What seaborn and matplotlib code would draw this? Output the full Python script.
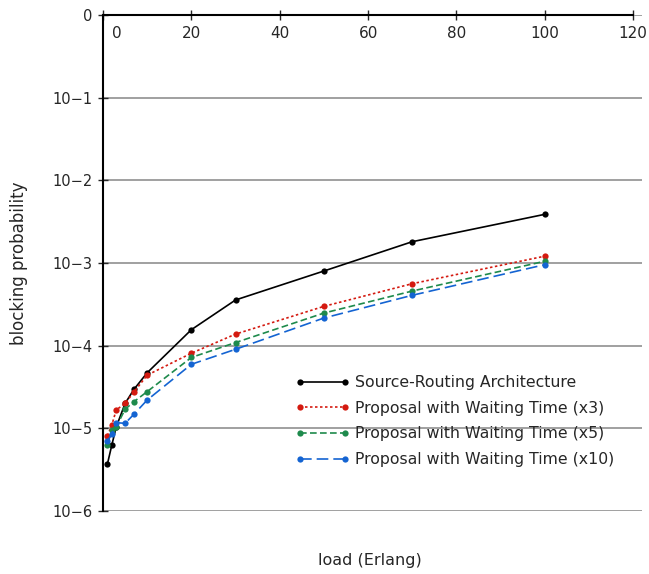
import numpy as np
import pandas as pd
import matplotlib
matplotlib.use("Agg")
import matplotlib.pyplot as plt
import matplotlib.transforms as mtransforms
import seaborn as sns

# data
load = [1, 2, 3, 5, 7, 10, 20, 30, 50, 70, 100]
source_routing = [3.7e-6, 6.3e-6, 1.04e-5, 2.0e-5, 2.96e-5, 4.7e-5, 1.56e-4, 3.57e-4, 8.0e-4, 1.81e-3, 3.88e-3]
waiting_x3 = [8.1e-6, 1.1e-5, 1.67e-5, 2.0e-5, 2.75e-5, 4.4e-5, 8.1e-5, 1.38e-4, 2.99e-4, 5.62e-4, 1.21e-3]
waiting_x5 = [6.3e-6, 9.5e-6, 1.04e-5, 1.7e-5, 2.1e-5, 2.78e-5, 7.2e-5, 1.09e-4, 2.48e-4, 4.58e-4, 1.05e-3]
waiting_x10 = [7.0e-6, 8.55e-6, 1.17e-5, 1.15e-5, 1.48e-5, 2.2e-5, 5.95e-5, 9.04e-5, 2.16e-4, 4.07e-4, 9.55e-4]

series_names = ["Source-Routing Architecture",
                "Proposal with Waiting Time (x3)",
                "Proposal with Waiting Time (x5)",
                "Proposal with Waiting Time (x10)"]
series_values = [source_routing, waiting_x3, waiting_x5, waiting_x10]

x_ticks = [0, 20, 40, 60, 80, 100, 120]
y_ticks = [1e0, 1e-1, 1e-2, 1e-3, 1e-4, 1e-5, 1e-6]
y_tick_labels = ["0", "10\u22121", "10\u22122", "10\u22123", "10\u22124", "10\u22125", "10\u22126"]

df = pd.concat([pd.DataFrame({"load": load, "prob": v, "series": n})
                for n, v in zip(series_names, series_values)], ignore_index=True)

sns.set_style("white")
plt.rcParams["font.family"] = ["DejaVu Sans"]

colors = {series_names[0]: "#000000", series_names[1]: "#d41a10",
          series_names[2]: "#1e8a4c", series_names[3]: "#1464d2"}
dashes = {series_names[0]: "", series_names[1]: (1.5, 1.5),
          series_names[2]: (4, 2), series_names[3]: (7, 3)}

fig = plt.figure(figsize=(6.49, 5.74), dpi=100)
ax = fig.add_axes([103 / 649, 1 - 511 / 574, (642 - 103) / 649, (511 - 15) / 574])

sns.lineplot(data=df, x="load", y="prob", hue="series", style="series",
             palette=colors, dashes=dashes, markers={n: "o" for n in series_names},
             markersize=4.5, markeredgewidth=0, linewidth=1.2, ax=ax, legend=False)

ax.set_yscale("log")
ax.set_ylim(1e-6, 1e0)
ax.set_xlim(0, 122)
ax.minorticks_off()
ax.set_yticks(y_ticks)
ax.set_yticklabels(y_tick_labels, fontsize=10.5)
ax.set_xticks(x_ticks)
ax.set_xticklabels([str(t) for t in x_ticks], fontsize=11)

ax.xaxis.tick_top()
ax.tick_params(axis="x", top=True, bottom=False, labeltop=True, labelbottom=False,
               direction="inout", length=7, width=1, pad=-22)
ax.tick_params(axis="y", left=True, direction="inout", length=7, width=1, pad=4)

# first x label sits right of its tick
lbl0 = ax.get_xticklabels()[0]
lbl0.set_transform(lbl0.get_transform() + mtransforms.ScaledTranslation(14 / 100, 0, fig.dpi_scale_trans))

ax.grid(axis="y", color="#a0a0a0", linewidth=1.4)
ax.grid(axis="x", visible=False)
for s in ["right", "bottom"]:
    ax.spines[s].set_visible(False)
ax.spines["top"].set_bounds(0, 120)
ax.spines["top"].set_linewidth(1.5)
ax.spines["left"].set_linewidth(1.5)
ax.spines["left"].set_color("black")
ax.spines["top"].set_color("black")
ax.set_xlabel("")
ax.set_ylabel("")

fig.text(19 / 649, 1 - 263 / 574, "blocking probability", fontsize=12, rotation=90,
         ha="center", va="center")
fig.text(370 / 649, 1 - 561 / 574, "load (Erlang)", fontsize=11.5, ha="center", va="center")

ax.legend(ax.lines[:4], series_names, loc="upper left",
          bbox_to_anchor=(295 / 649, 1 - 375 / 574), bbox_transform=fig.transFigure,
          frameon=False, borderpad=0, borderaxespad=0, numpoints=2,
          handlelength=3.5, handletextpad=0.35, labelspacing=0.68, fontsize=11.3)

fig.savefig("out.png", dpi=100)
